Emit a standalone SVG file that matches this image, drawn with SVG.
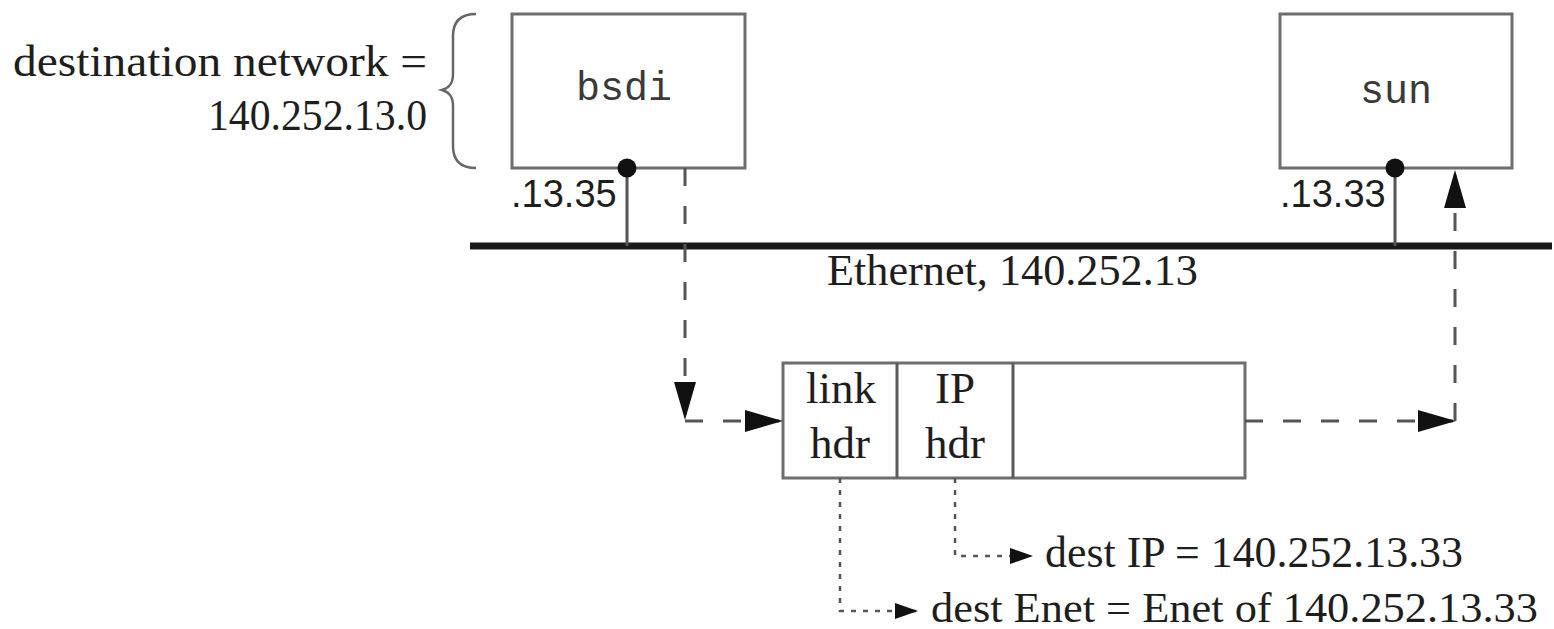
<svg xmlns="http://www.w3.org/2000/svg" width="1554" height="629" viewBox="0 0 1554 629">
  <style>
    .box { fill: #ffffff; stroke: #6e6e6e; stroke-width: 3; }
    .div { stroke: #5a5a5a; stroke-width: 3; }
    .serif { font-family: "Liberation Serif", "Times New Roman", serif; fill: #1e1e1e; }
    .mono { font-family: "Liberation Mono", "Courier New", monospace; fill: #3a3a3a; font-size: 40px; }
    .sans { font-family: "Liberation Sans", Arial, sans-serif; fill: #1e1e1e; font-size: 38px; }
    .solid { stroke: #555; stroke-width: 3; fill: none; }
    .dash { stroke: #555; stroke-width: 3; fill: none; stroke-dasharray: 18 20; }
    .dot { stroke: #555; stroke-width: 2.5; fill: none; stroke-dasharray: 5 7; }
    .enet { stroke: #1a1a1a; stroke-width: 7; }
  </style>
  <defs>
    <marker id="bigArrow" markerUnits="userSpaceOnUse" markerWidth="40" markerHeight="24" refX="38" refY="11" orient="auto">
      <path d="M0,0 L38,11 L0,22 z" fill="#111"/>
    </marker>
    <marker id="smallArrow" markerUnits="userSpaceOnUse" markerWidth="26" markerHeight="18" refX="23" refY="8" orient="auto">
      <path d="M0,0 L23,8 L0,16 z" fill="#111"/>
    </marker>
  </defs>
  <rect width="1554" height="629" fill="#ffffff"/>

  <g id="dest-network-label">
    <text class="serif" x="427" y="76" font-size="44" text-anchor="end" textLength="414" lengthAdjust="spacingAndGlyphs">destination network =</text>
    <text class="serif" x="427" y="130" font-size="44" text-anchor="end" textLength="219" lengthAdjust="spacingAndGlyphs">140.252.13.0</text>
    <path d="M476 14 C462 14 453 20 453 36 L453 74 C453 84 449 88 442 90 C449 92 453 96 453 106 L453 146 C453 162 462 168 476 168" fill="none" stroke="#666" stroke-width="2.5"/>
  </g>

  <g id="ethernet">
    <line class="enet" x1="470" y1="246" x2="1552" y2="246"/>
    <text class="serif" x="827" y="285" font-size="45" textLength="371" lengthAdjust="spacingAndGlyphs">Ethernet, 140.252.13</text>
  </g>

  <g id="bsdi">
    <rect class="box" x="512" y="14" width="233" height="154"/>
    <text class="mono" x="624" y="100" text-anchor="middle">bsdi</text>
    <line class="solid" x1="627" y1="168" x2="627" y2="246"/>
    <circle cx="627" cy="168" r="9.5" fill="#111"/>
    <text class="sans" x="511" y="207">.13.35</text>
  </g>

  <g id="sun">
    <rect class="box" x="1280" y="14" width="232" height="154"/>
    <text class="mono" x="1396" y="103" text-anchor="middle">sun</text>
    <line class="solid" x1="1395" y1="168" x2="1395" y2="246"/>
    <circle cx="1395" cy="168" r="9.5" fill="#111"/>
    <text class="sans" x="1280" y="207">.13.33</text>
  </g>

  <g id="frame">
    <rect class="box" x="783" y="363" width="462" height="115"/>
    <line class="div" x1="897" y1="363" x2="897" y2="478"/>
    <line class="div" x1="1013" y1="363" x2="1013" y2="478"/>
    <text class="serif" x="841" y="403" font-size="45" text-anchor="middle">link</text>
    <text class="serif" x="840" y="458" font-size="45" text-anchor="middle">hdr</text>
    <text class="serif" x="955" y="403" font-size="45" text-anchor="middle">IP</text>
    <text class="serif" x="955" y="458" font-size="45" text-anchor="middle">hdr</text>
  </g>

  <g id="dest-ip-label">
    <text class="serif" x="1045" y="567" font-size="44" textLength="418" lengthAdjust="spacingAndGlyphs">dest IP = 140.252.13.33</text>
  </g>
  <g id="dest-enet-label">
    <text class="serif" x="931" y="622" font-size="43" textLength="607" lengthAdjust="spacingAndGlyphs">dest Enet = Enet of 140.252.13.33</text>
  </g>

  <g id="connectors">
    <path class="dash" d="M685 168 V420" marker-end="url(#bigArrow)"/>
    <path class="dash" d="M685 421 H783" marker-end="url(#bigArrow)"/>
    <path class="dash" d="M1245 421 H1456" marker-end="url(#bigArrow)"/>
    <path class="dash" d="M1455 421 V170" marker-end="url(#bigArrow)"/>
    <path class="dot" d="M955 478 V556 H1033" marker-end="url(#smallArrow)"/>
    <path class="dot" d="M840 478 V611 H918" marker-end="url(#smallArrow)"/>
  </g>
</svg>
